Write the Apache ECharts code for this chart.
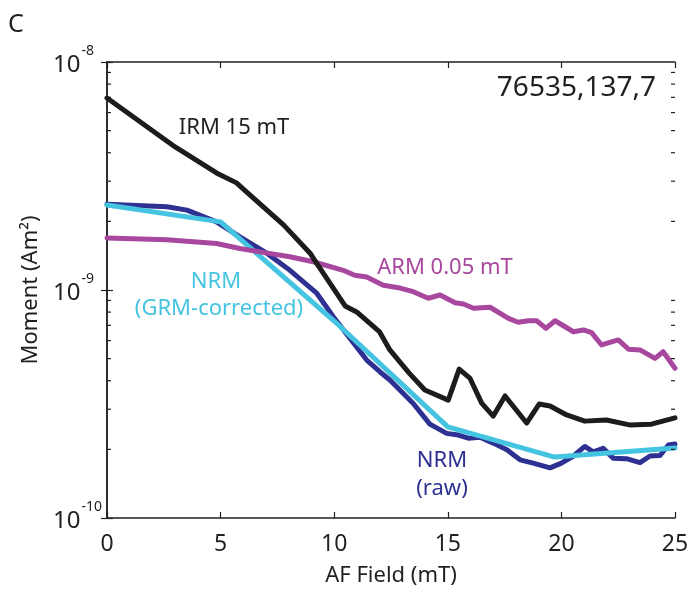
<!DOCTYPE html>
<html>
<head>
<meta charset="utf-8">
<script src="https://cdn.jsdelivr.net/npm/echarts@6/dist/echarts.min.js"></script>
<style>
  html, body { margin: 0; padding: 0; background: #fff; }
  #main { width: 689px; height: 592px; }
</style>
</head>
<body>
<div id="main"></div>
<script>
// AF demagnetisation, sample 76535,137,7
var irmField = [0, 3.0, 4.82, 5.7, 6.15, 7.77, 8.94, 9.23, 10.48, 10.99, 12.0, 12.45, 13.3, 13.99, 15.02,
    15.5, 15.97, 16.49, 17.0, 17.52, 18.47, 19.02, 19.5, 20.23, 21.03, 21.98, 23.0, 23.96, 25];
var irmMoment = [6.95e-9, 4.24e-9, 3.26e-9, 2.95e-9, 2.69e-9, 1.93e-9, 1.45e-9, 1.31e-9, 8.51e-10, 8.01e-10,
    6.55e-10, 5.46e-10, 4.32e-10, 3.64e-10, 3.29e-10, 4.50e-10, 4.11e-10, 3.19e-10, 2.80e-10, 3.43e-10,
    2.61e-10, 3.16e-10, 3.10e-10, 2.83e-10, 2.66e-10, 2.69e-10, 2.56e-10, 2.58e-10, 2.75e-10];

var armField = [0, 2.64, 4.82, 5.85, 6.73, 8.05, 9.08, 10.4, 10.9, 11.43, 12.16, 12.9, 13.48, 14.14, 14.66,
    15.32, 15.69, 16.13, 16.86, 17.67, 18.1, 18.55, 18.91, 19.32, 19.72, 20.53, 20.97, 21.33, 21.77, 22.5,
    22.95, 23.46, 24.12, 24.48, 25];
var armMoment = [1.69e-9, 1.66e-9, 1.60e-9, 1.52e-9, 1.47e-9, 1.40e-9, 1.33e-9, 1.22e-9, 1.16e-9, 1.14e-9,
    1.05e-9, 1.02e-9, 9.83e-10, 9.20e-10, 9.51e-10, 8.80e-10, 8.68e-10, 8.32e-10, 8.40e-10, 7.51e-10,
    7.22e-10, 7.33e-10, 7.33e-10, 6.79e-10, 7.33e-10, 6.56e-10, 6.68e-10, 6.50e-10, 5.74e-10, 6.04e-10,
    5.50e-10, 5.46e-10, 5.01e-10, 5.36e-10, 4.54e-10];

var rawField = [0, 2.64, 3.52, 4.82, 5.85, 7.03, 8.05, 9.23, 9.96, 11.43, 12.02, 12.45, 13.48, 14.21, 14.95,
    15.46, 15.9, 16.42, 17.0, 17.6, 18.18, 18.76, 19.5, 20.0, 20.53, 21.03, 21.4, 21.84, 22.28, 22.86,
    23.46, 23.9, 24.34, 24.71, 25];
var rawMoment = [2.38e-9, 2.32e-9, 2.24e-9, 1.99e-9, 1.71e-9, 1.45e-9, 1.22e-9, 9.68e-10, 7.64e-10, 4.93e-10,
    4.37e-10, 4.03e-10, 3.18e-10, 2.58e-10, 2.35e-10, 2.31e-10, 2.24e-10, 2.26e-10, 2.13e-10, 1.99e-10,
    1.80e-10, 1.74e-10, 1.66e-10, 1.74e-10, 1.87e-10, 2.06e-10, 1.95e-10, 2.02e-10, 1.83e-10, 1.82e-10,
    1.75e-10, 1.87e-10, 1.88e-10, 2.09e-10, 2.11e-10];

var corrField = [0, 5, 10, 15, 19.7, 25];
var corrMoment = [2.36e-9, 1.99e-9, 7.31e-10, 2.51e-10, 1.85e-10, 2.03e-10];

var xTicks = [0, 5, 10, 15, 20, 25];
var minorTicks = [2e-10, 3e-10, 4e-10, 5e-10, 6e-10, 7e-10, 8e-10, 9e-10,
    2e-9, 3e-9, 4e-9, 5e-9, 6e-9, 7e-9, 8e-9, 9e-9];

var FONT = 'Noto Sans';
var INK = '#231f20';

function pairs(xs, ys) {
    var res = [];
    for (var i = 0; i < xs.length; i++) {
        res.push([xs[i], ys[i]]);
    }
    return res;
}

function lineSeries(name, xs, ys, color) {
    return {
        name: name,
        type: 'line',
        data: pairs(xs, ys),
        showSymbol: false,
        symbol: 'none',
        lineStyle: { color: color, width: 5, cap: 'round', join: 'round' },
        z: 3
    };
}

var myChart = echarts.init(document.getElementById('main'));

var option = {
    animation: false,
    backgroundColor: '#fff',
    grid: { left: 107, right: 14, top: 62, bottom: 74, outerBoundsMode: 'none', containLabel: false },
    xAxis: [{
        type: 'value',
        position: 'bottom',
        min: xTicks[0],
        max: xTicks[xTicks.length - 1],
        interval: 5,
        name: 'AF Field (mT)',
        nameLocation: 'middle',
        nameGap: 47,
        nameTextStyle: { fontFamily: FONT, fontSize: 22, color: INK },
        axisLine: { show: true, lineStyle: { color: INK, width: 1.5 } },
        axisTick: { show: true, inside: true, length: 6, lineStyle: { color: INK, width: 1.2 } },
        axisLabel: { fontFamily: FONT, fontSize: 23, color: INK, margin: 15 },
        splitLine: { show: false }
    }, {
        type: 'value',
        position: 'top',
        min: xTicks[0],
        max: xTicks[xTicks.length - 1],
        interval: 5,
        axisLine: { show: true, lineStyle: { color: INK, width: 1.5 } },
        axisTick: { show: true, inside: true, length: 6, lineStyle: { color: INK, width: 1.2 } },
        axisLabel: { show: false },
        splitLine: { show: false }
    }],
    yAxis: [{
        type: 'log',
        logBase: 10,
        min: 1e-10,
        max: 1e-8,
        position: 'left',
        name: 'Moment (Am²)',
        nameLocation: 'middle',
        nameGap: 64,
        nameRotate: 90,
        nameTextStyle: { fontFamily: FONT, fontSize: 22, color: INK },
        axisLine: { show: true, lineStyle: { color: INK, width: 1.5 } },
        axisTick: { show: true, inside: true, length: 6, lineStyle: { color: INK, width: 1.2 } },
        axisLabel: {
            margin: 54,
            align: 'left',
            formatter: function (v) {
                var e = Math.round(Math.log10(v));
                return '{b|10}{s|' + e + '}';
            },
            rich: {
                b: { fontFamily: FONT, fontSize: 24, color: INK, lineHeight: 24, padding: [6, 0, 0, 0] },
                s: { fontFamily: FONT, fontSize: 14, color: INK, lineHeight: 14, padding: [0, 0, 22, 1] }
            }
        },
        splitLine: { show: false }
    }, {
        type: 'log',
        logBase: 10,
        min: 1e-10,
        max: 1e-8,
        position: 'right',
        axisLine: { show: true, lineStyle: { color: INK, width: 1.5 } },
        axisTick: { show: true, inside: true, length: 6, lineStyle: { color: INK, width: 1.2 } },
        axisLabel: { show: false },
        splitLine: { show: false }
    }],
    series: [
        {
            name: 'minor ticks',
            type: 'custom',
            silent: true,
            data: minorTicks.map(function (v) { return [xTicks[0], v]; }),
            renderItem: function (params, api) {
                var left = api.coord([xTicks[0], api.value(1)]);
                var right = api.coord([xTicks[xTicks.length - 1], api.value(1)]);
                var st = { stroke: INK, lineWidth: 1.2 };
                return {
                    type: 'group',
                    children: [
                        { type: 'line', shape: { x1: left[0], y1: left[1], x2: left[0] + 4, y2: left[1] }, style: st },
                        { type: 'line', shape: { x1: right[0], y1: right[1], x2: right[0] - 4, y2: right[1] }, style: st }
                    ]
                };
            },
            z: 5
        },
        lineSeries('NRM (raw)', rawField, rawMoment, '#2e3192'),
        lineSeries('NRM (GRM-corrected)', corrField, corrMoment, '#45c4e2'),
        lineSeries('ARM 0.05 mT', armField, armMoment, '#a8479e'),
        lineSeries('IRM 15 mT', irmField, irmMoment, '#1e1b1c')
    ],
    graphic: [
        { type: 'text', x: 8, y: 12, style: { text: 'C', fontFamily: FONT, fontSize: 25, fill: INK } },
        { type: 'text', x: 656, y: 88, style: { text: '76535,137,7', fontFamily: FONT, fontSize: 28, fill: INK, align: 'right', verticalAlign: 'middle' } },
        { type: 'text', x: 234, y: 128, style: { text: 'IRM 15 mT', fontFamily: FONT, fontSize: 22, fill: INK, align: 'center', verticalAlign: 'middle' } },
        { type: 'text', x: 445, y: 268, style: { text: 'ARM 0.05 mT', fontFamily: FONT, fontSize: 22, fill: '#a8479e', align: 'center', verticalAlign: 'middle' } },
        { type: 'text', x: 216, y: 282, style: { text: 'NRM', fontFamily: FONT, fontSize: 22, fill: '#45c4e2', align: 'center', verticalAlign: 'middle' } },
        { type: 'text', x: 219, y: 309, style: { text: '(GRM-corrected)', fontFamily: FONT, fontSize: 22, fill: '#45c4e2', align: 'center', verticalAlign: 'middle' } },
        { type: 'text', x: 442, y: 461, style: { text: 'NRM', fontFamily: FONT, fontSize: 22, fill: '#2e3192', align: 'center', verticalAlign: 'middle' } },
        { type: 'text', x: 442, y: 489, style: { text: '(raw)', fontFamily: FONT, fontSize: 22, fill: '#2e3192', align: 'center', verticalAlign: 'middle' } }
    ]
};

myChart.setOption(option);
</script>
</body>
</html>
